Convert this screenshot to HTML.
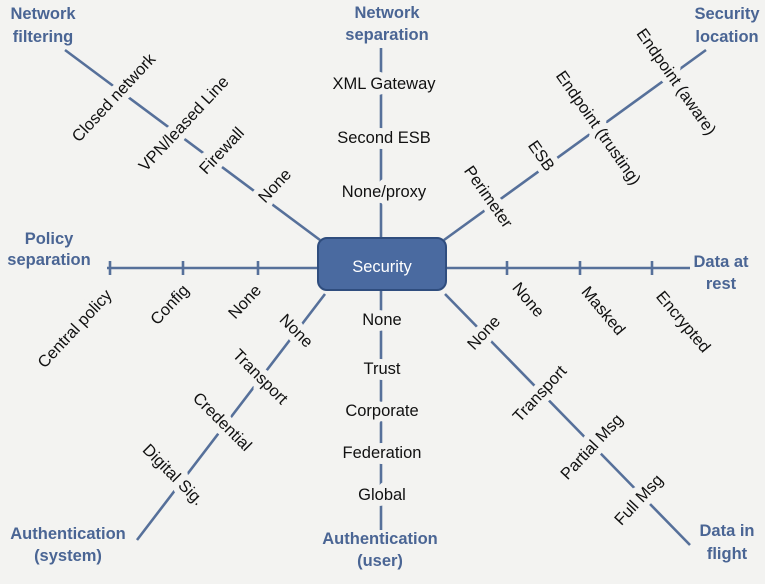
<!DOCTYPE html>
<html><head><meta charset="utf-8"><style>
html,body{margin:0;padding:0;background:#f3f3f1;}
svg{display:block}
.l{font-family:"Liberation Sans",sans-serif;font-size:16.5px;fill:#111;paint-order:stroke;stroke:#f3f3f1;stroke-width:12px;stroke-linejoin:round}
.h{font-family:"Liberation Sans",sans-serif;font-size:16.5px;font-weight:bold;fill:#4a6594}
</style></head><body>
<svg width="765" height="584" viewBox="0 0 765 584">
<rect width="765" height="584" fill="#f3f3f1"/>
<g stroke="#56709a" stroke-width="2.6" fill="none">
<line x1="107" y1="268" x2="690" y2="268"/>
<line x1="110" y1="261" x2="110" y2="275"/><line x1="183" y1="261" x2="183" y2="275"/><line x1="258" y1="261" x2="258" y2="275"/>
<line x1="507" y1="261" x2="507" y2="275"/><line x1="580" y1="261" x2="580" y2="275"/><line x1="652" y1="261" x2="652" y2="275"/>
<line x1="381" y1="48" x2="381" y2="240"/>
<line x1="381" y1="290" x2="381" y2="530"/>
<line x1="65" y1="50" x2="320" y2="240"/>
<line x1="706" y1="50" x2="444" y2="240"/>
<line x1="325" y1="294" x2="137" y2="540"/>
<line x1="445" y1="294" x2="690" y2="545"/>
</g>
<rect x="318" y="238" width="128" height="52" rx="9" fill="#4a6aa0" stroke="#2f4d7e" stroke-width="2"/>
<text x="382" y="272" text-anchor="middle" font-family="Liberation Sans,sans-serif" font-size="16.5" fill="#fff">Security</text>
<g class="l" text-anchor="middle">
<text x="384" y="89">XML Gateway</text>
<text x="384" y="143">Second ESB</text>
<text x="384" y="197">None/proxy</text>
<text x="382" y="325">None</text>
<text x="382" y="374">Trust</text>
<text x="382" y="416">Corporate</text>
<text x="382" y="458">Federation</text>
<text x="382" y="500">Global</text>
<text transform="translate(114,98) rotate(-47)" y="5">Closed network</text>
<text transform="translate(184,124) rotate(-47)" y="5">VPN/leased Line</text>
<text transform="translate(222,151) rotate(-47)" y="5">Firewall</text>
<text transform="translate(275,186) rotate(-47)" y="5">None</text>
<text transform="translate(676,82) rotate(55)" y="5">Endpoint (aware)</text>
<text transform="translate(598,128) rotate(55)" y="5">Endpoint (trusting)</text>
<text transform="translate(541,156) rotate(55)" y="5">ESB</text>
<text transform="translate(488,197) rotate(55)" y="5">Perimeter</text>
<text transform="translate(296,331) rotate(45)" y="5">None</text>
<text transform="translate(260,377) rotate(45)" y="5">Transport</text>
<text transform="translate(222,422) rotate(45)" y="5">Credential</text>
<text transform="translate(173,475) rotate(45)" y="5">Digital Sig.</text>
<text transform="translate(484,333) rotate(-47)" y="5">None</text>
<text transform="translate(540,394) rotate(-47)" y="5">Transport</text>
<text transform="translate(592,447) rotate(-47)" y="5">Partial Msg</text>
<text transform="translate(639,500) rotate(-47)" y="5">Full Msg</text>
<text transform="translate(75,329) rotate(-47)" y="5">Central policy</text>
<text transform="translate(170,305) rotate(-47)" y="5">Config</text>
<text transform="translate(245,302) rotate(-47)" y="5">None</text>
<text transform="translate(528,300) rotate(50)" y="5">None</text>
<text transform="translate(603,311) rotate(50)" y="5">Masked</text>
<text transform="translate(683,322) rotate(50)" y="5">Encrypted</text>
</g>
<g class="h" text-anchor="middle">
<text x="43" y="19">Network</text><text x="43" y="42">filtering</text>
<text x="387" y="18">Network</text><text x="387" y="40">separation</text>
<text x="727" y="19">Security</text><text x="727" y="42">location</text>
<text x="49" y="244">Policy</text><text x="49" y="265">separation</text>
<text x="721" y="267">Data at</text><text x="721" y="289">rest</text>
<text x="68" y="539">Authentication</text><text x="68" y="561">(system)</text>
<text x="380" y="544">Authentication</text><text x="380" y="566">(user)</text>
<text x="727" y="536">Data in</text><text x="727" y="559">flight</text>
</g>
</svg>
</body></html>
